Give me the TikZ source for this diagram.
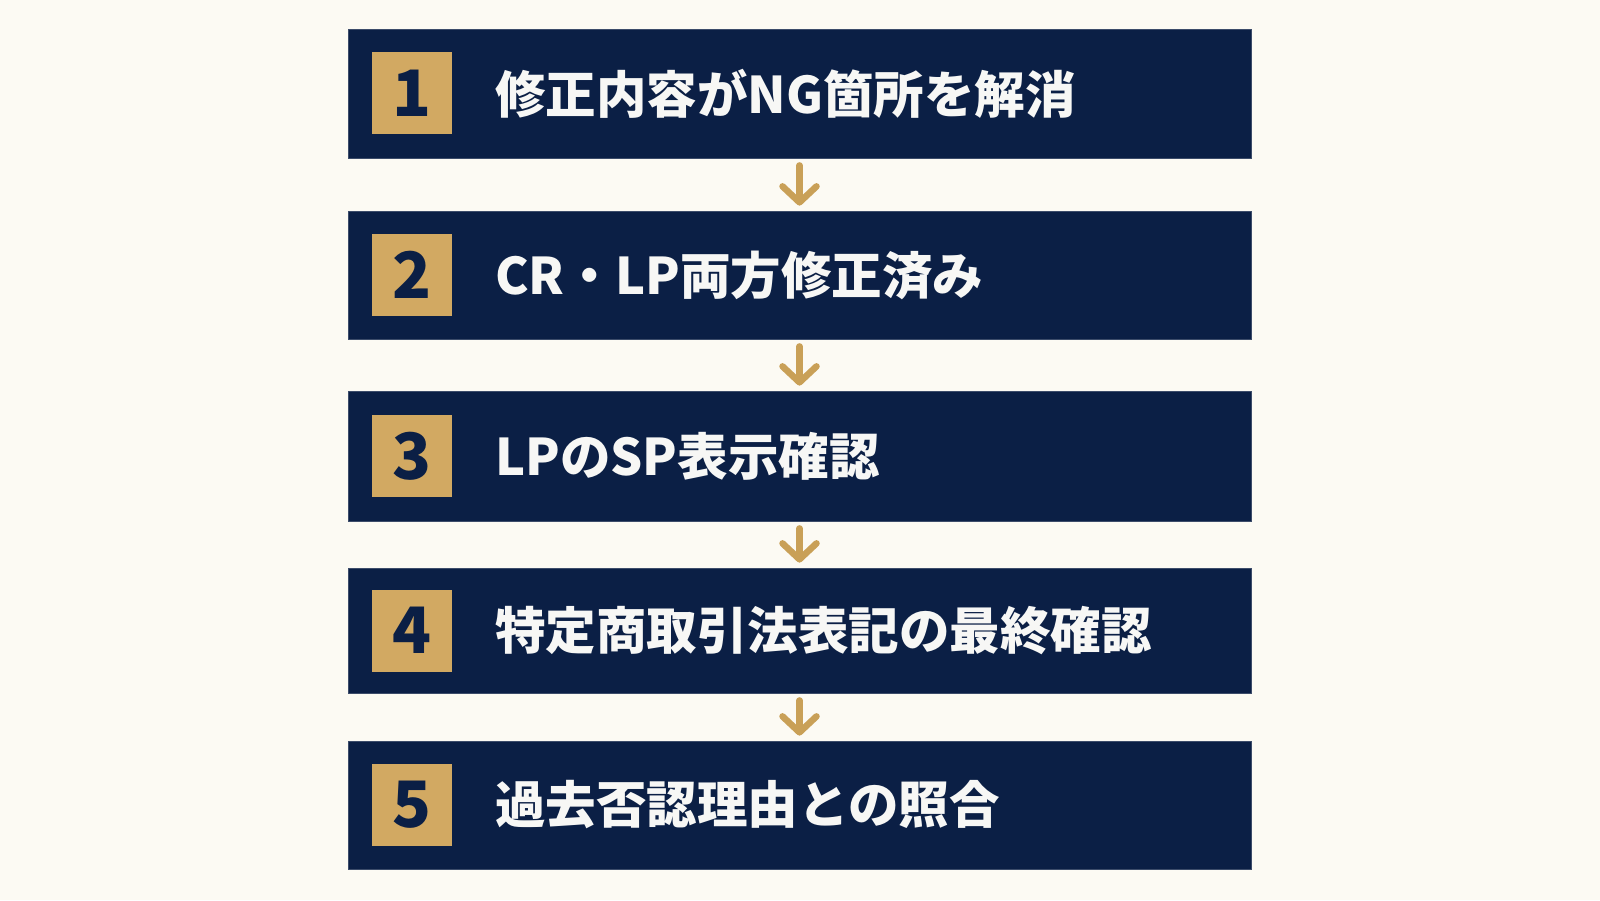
\documentclass[tikz,border=0pt]{standalone}
\usepackage{fontspec}
\newfontfamily\jp{Noto Sans CJK JP}
\usetikzlibrary{arrows.meta}
\definecolor{bgc}{HTML}{FCFAF3}
\definecolor{navy}{HTML}{0B1F45}
\definecolor{goldb}{HTML}{D2A962}
\definecolor{golda}{HTML}{C9A057}
\definecolor{txt}{HTML}{F7F7F5}
\tikzset{
  stepbox/.style={rectangle, fill=navy, draw=navy!80!white, line width=0.8pt, minimum width=903pt, inner sep=0pt},
  badge/.style={rectangle, fill=goldb, minimum width=80pt, minimum height=82pt, inner sep=0pt,
    font=\jp\bfseries\fontsize{64}{64}\selectfont, text=navy},
  label/.style={anchor=west, inner sep=0pt, text=txt, font=\jp\bfseries\fontsize{50.5}{56}\selectfont},
  flow/.style={draw=golda, line width=6.5pt, line cap=round,
    -{Straight Barb[length=16pt, width=34pt, line cap=round, line join=round]}}
}
\begin{document}
\begin{tikzpicture}[x=1pt, y=-1pt]
\fill[bgc] (0,0) rectangle (1600,900);
\useasboundingbox (0,0) rectangle (1600,900);
\node[stepbox, minimum height=129pt] (b1) at (799.5,93.5) {};
\node[stepbox, minimum height=128pt] (b2) at (799.5,275) {};
\node[stepbox, minimum height=130pt] (b3) at (799.5,456) {};
\node[stepbox, minimum height=125pt] (b4) at (799.5,630.5) {};
\node[stepbox, minimum height=128pt] (b5) at (799.5,805) {};
\node[badge] (n1) at (412,93) {1};
\node[badge] (n2) at (412,275) {2};
\node[badge] (n3) at (412,456) {3};
\node[badge] (n4) at (412,630.5) {4};
\node[badge] (n5) at (412,805) {5};
\node[label] (t1) at (495,93.5) {修正内容がNG箇所を解消};
\node[label] (t2) at (495,275) {CR・LP両方修正済み};
\node[label] (t3) at (495,456) {LPのSP表示確認};
\node[label] (t4) at (495,630.5) {特定商取引法表記の最終確認};
\node[label] (t5) at (495,805) {過去否認理由との照合};
\draw[flow] ([yshift=-7pt]b1.south) -- ([yshift=5pt]b2.north);
\draw[flow] ([yshift=-7pt]b2.south) -- ([yshift=5pt]b3.north);
\draw[flow] ([yshift=-7pt]b3.south) -- ([yshift=5pt]b4.north);
\draw[flow] ([yshift=-7pt]b4.south) -- ([yshift=5pt]b5.north);
\end{tikzpicture}
\end{document}
